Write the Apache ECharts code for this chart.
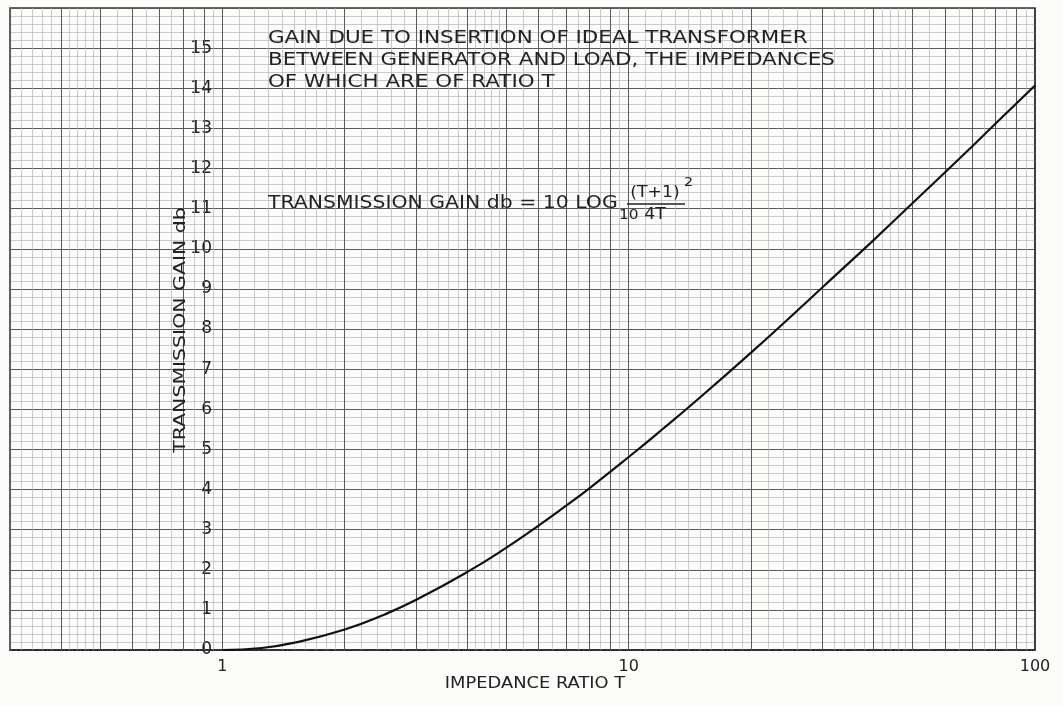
<!DOCTYPE html>
<html>
<head>
<meta charset="utf-8">
<script src="https://cdn.jsdelivr.net/npm/echarts@6/dist/echarts.min.js"></script>
<style>
html, body { margin: 0; padding: 0; background: #fcfcfa; }
#chart { width: 1063px; height: 706px; }
</style>
</head>
<body>
<div id="chart"></div>
<script>
// values
var ratioT = [1, 1.25, 1.5, 2, 2.5, 3, 4, 5, 6, 7, 8, 10, 12, 15, 20, 25, 30, 40, 50, 60, 70, 80, 100];
var gainDb = [0, 0.05, 0.18, 0.51, 0.88, 1.25, 1.94, 2.55, 3.1, 3.59, 4.03, 4.81, 5.47, 6.3, 7.41, 8.3, 9.04, 10.21, 11.14, 11.9, 12.55, 13.12, 14.07];
var xTickLabels = [1, 10, 100];
var yTickLabels = [0, 1, 2, 3, 4, 5, 6, 7, 8, 9, 10, 11, 12, 13, 14, 15];

var points = ratioT.map(function (t, i) { return [t, gainDb[i]]; });

// log graph paper rulings
var xMin = 0.3, xMax = 100;
var paperLines = [];
[0.1, 1, 10].forEach(function (d) {
    var steps = [[1, 2, 0.1], [2, 5, 0.2], [5, 10, 0.5]];
    steps.forEach(function (s) {
        for (var k = s[0]; k < s[1] - 1e-9; k += s[2]) {
            var v = Math.round(k * d * 10000) / 10000;
            if (v < xMin - 1e-9 || v > xMax + 1e-9) continue;
            var major = Math.abs(k - Math.round(k)) < 1e-6;
            paperLines.push({
                xAxis: v,
                lineStyle: major ? { color: '#5a5a5a', width: 1, type: 'solid' }
                                 : { color: '#b4b4b4', width: 0.7, type: 'solid' }
            });
        }
    });
});
paperLines.push({ xAxis: 100, lineStyle: { color: '#333', width: 1.5, type: 'solid' } });

var font = 'DejaVu Sans';
var ink = '#222';

function label(text, x, y, size, sx, extra) {
    var st = { text: text, font: size + 'px ' + font, fill: ink, verticalAlign: 'middle' };
    for (var k in (extra || {})) st[k] = extra[k];
    return { type: 'text', x: x, y: y, scaleX: sx, style: st, z: 10 };
}

var chart = echarts.init(document.getElementById('chart'));
chart.setOption({
    backgroundColor: '#fcfcfa',
    animation: false,
    grid: { left: 10, right: 28, top: 8, bottom: 56, show: true, borderColor: '#333', borderWidth: 1.5 },
    xAxis: {
        type: 'log', logBase: 10, min: xMin, max: xMax,
        axisLine: { lineStyle: { color: '#222', width: 1.5 } },
        axisTick: { show: false },
        splitLine: { show: false },
        axisLabel: {
            fontSize: 16, fontFamily: font, color: ink, margin: 9,
            formatter: function (v) {
                for (var i = 0; i < xTickLabels.length; i++) {
                    if (Math.abs(v - xTickLabels[i]) < 1e-6) return String(xTickLabels[i]);
                }
                return '';
            }
        }
    },
    yAxis: {
        type: 'value', min: 0, max: 16, interval: 1, offset: -212,
        axisLine: { show: false }, axisTick: { show: false },
        axisLabel: {
            fontSize: 17, fontFamily: font, color: ink, margin: 10,
            formatter: function (v) { return yTickLabels.indexOf(v) >= 0 ? String(v) : ''; }
        },
        splitLine: { lineStyle: { color: '#5a5a5a', width: 1 } },
        minorTick: { show: false, splitNumber: 5 },
        minorSplitLine: { show: true, lineStyle: { color: '#b4b4b4', width: 0.7 } }
    },
    series: [{
        type: 'line', data: [], z: 1, silent: true,
        markLine: { silent: true, symbol: ['none', 'none'], label: { show: false }, animation: false, data: paperLines }
    }, {
        type: 'line', data: points, smooth: true, showSymbol: false, z: 5,
        lineStyle: { color: '#111', width: 2.2 }
    }],
    graphic: [
        label('GAIN DUE TO INSERTION OF IDEAL TRANSFORMER', 268, 39, 17, 1.26),
        label('BETWEEN GENERATOR AND LOAD, THE IMPEDANCES', 268, 61, 17, 1.26),
        label('OF WHICH ARE OF RATIO T', 268, 83, 17, 1.26),
        label('TRANSMISSION GAIN db = 10 LOG', 268, 204, 17, 1.2),
        label('10', 619, 215, 14, 1.1),
        label('(T+1)', 655, 193, 15, 1.15, { align: 'center' }),
        label('2', 684, 183, 13, 1.1),
        { type: 'line', z: 10, shape: { x1: 627, y1: 204, x2: 685, y2: 204 }, style: { stroke: ink, lineWidth: 1.5 } },
        label('4T', 655, 215, 15, 1.15, { align: 'center' }),
        label('IMPEDANCE RATIO T', 535, 684, 15, 1.19, { align: 'center' }),
        { type: 'text', x: 181, y: 330, rotation: Math.PI / 2, scaleX: 1.28, z: 10,
          style: { text: 'TRANSMISSION GAIN db', font: '16px ' + font, fill: ink, align: 'center', verticalAlign: 'middle' } }
    ]
});
</script>
</body>
</html>
